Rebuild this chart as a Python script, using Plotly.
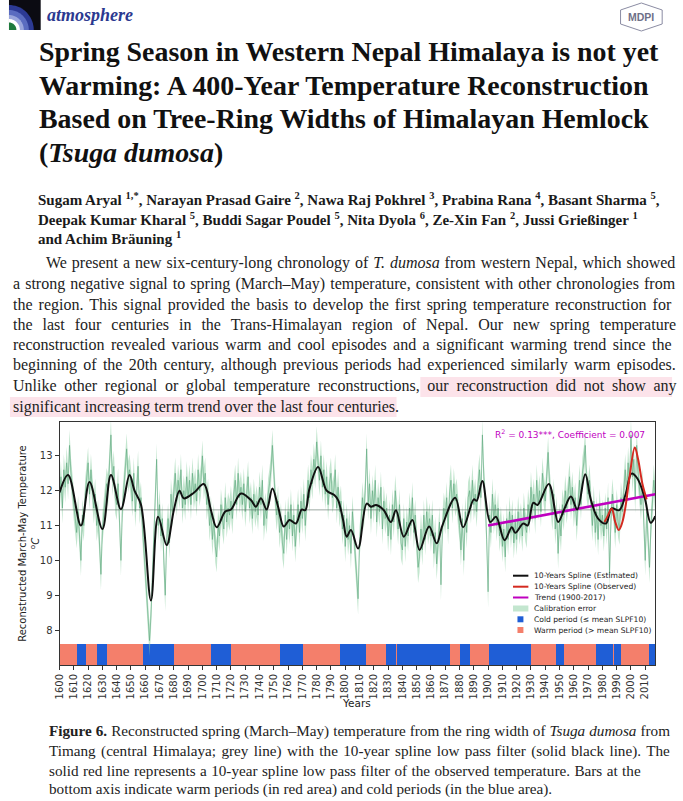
import math
import plotly.graph_objects as go

W, H = 683, 801
def PX(x): return x / W
def PY(y): return 1 - y / H

# ---------------- data ----------------
years = list(range(1600, 2018))
annual = [
    11.8, 12.4, 11.5, 12.6, 12.1, 12.8, 12.2, 13.3, 12.5, 11.9,   # 1600s
    11.6, 11.2, 10.8, 11.4, 10.6, 10.0, 11.3, 11.0, 11.9, 12.4,   # 1610s
    12.8, 11.9, 12.6, 12.0, 11.5, 11.9, 11.0, 11.3, 10.6, 9.6,    # 1620s
    10.9, 11.4, 11.8, 12.2, 12.0, 13.0, 13.6, 12.3, 12.7, 11.8,   # 1630s
    11.6, 12.2, 10.9, 10.0, 11.5, 12.1, 12.9, 13.2, 12.4, 12.6,   # 1640s
    12.2, 11.7, 12.5, 11.4, 12.0, 12.7, 11.5, 11.8, 11.0, 10.4,   # 1650s
    9.8, 9.2, 8.6, 7.7, 8.4, 9.6, 10.8, 11.9, 12.9, 11.0,         # 1660s
    11.6, 10.7, 11.2, 10.0, 9.0, 10.6, 11.2, 10.5, 11.9, 11.4,    # 1670s
    12.1, 12.5, 11.7, 12.3, 11.9, 12.6, 11.5, 12.0, 11.6, 12.4,   # 1680s
    11.8, 12.3, 11.6, 12.5, 11.9, 12.2, 11.7, 12.6, 12.0, 12.3,   # 1690s
    13.0, 12.2, 12.5, 11.6, 11.9, 11.0, 11.4, 10.6, 11.2, 10.4,   # 1700s
    10.1, 11.0, 10.7, 11.6, 11.2, 10.9, 11.8, 11.1, 11.5, 11.3,   # 1710s
    11.7, 11.2, 11.9, 12.3, 11.6, 12.5, 11.8, 12.1, 11.6, 12.2,   # 1720s
    11.4, 11.9, 12.4, 11.5, 11.8, 11.2, 11.9, 11.4, 11.7, 11.3,   # 1730s
    12.1, 11.6, 12.3, 11.0, 11.5, 11.2, 11.9, 12.2, 12.6, 13.3,   # 1740s
    12.4, 11.8, 11.3, 11.7, 10.8, 11.2, 10.5, 10.2, 11.3, 10.6,   # 1750s
    11.4, 10.9, 11.6, 10.7, 11.3, 10.4, 11.0, 11.6, 10.8, 11.7,   # 1760s
    11.2, 11.9, 11.0, 11.6, 12.3, 11.8, 12.6, 12.2, 12.9, 12.5,   # 1770s
    13.4, 12.8, 12.3, 13.0, 12.1, 12.6, 11.9, 12.4, 11.6, 12.2,   # 1780s
    12.5, 11.8, 12.0, 12.6, 11.5, 12.1, 11.4, 11.7, 10.9, 11.3,   # 1790s
    10.4, 11.2, 10.6, 11.0, 10.2, 11.4, 10.7, 10.0, 9.6, 8.9,     # 1800s
    10.5, 11.0, 11.8, 11.3, 12.0, 13.2, 11.6, 12.2, 11.2, 12.0,   # 1810s
    11.5, 12.3, 11.1, 11.8, 11.4, 12.1, 10.9, 11.7, 11.2, 11.5,   # 1820s
    10.7, 11.3, 10.6, 11.6, 11.1, 12.0, 11.4, 10.9, 11.6, 10.5,   # 1830s
    10.3, 11.2, 10.4, 11.1, 10.7, 11.5, 11.0, 11.8, 10.8, 11.3,   # 1840s
    10.5, 9.8, 10.1, 10.9, 10.3, 11.3, 10.6, 11.4, 10.9, 11.2,    # 1850s
    10.7, 11.3, 10.2, 10.8, 9.9, 10.6, 11.1, 9.3, 10.9, 11.5,     # 1860s
    11.2, 11.8, 10.9, 11.9, 12.3, 11.5, 12.2, 11.7, 11.9, 11.4,   # 1870s
    11.0, 10.3, 11.2, 10.0, 11.4, 10.8, 11.8, 12.0, 11.5, 12.3,   # 1880s
    11.6, 11.9, 11.4, 12.2, 12.6, 11.8, 13.6, 12.4, 11.7, 10.6,   # 1890s
    9.1, 11.3, 10.8, 11.9, 11.2, 11.6, 11.0, 11.5, 10.7, 11.1,    # 1900s
    10.4, 10.9, 10.1, 11.2, 10.6, 11.4, 10.8, 11.3, 10.5, 11.1,   # 1910s
    10.6, 11.4, 10.9, 11.2, 10.7, 11.5, 11.0, 10.8, 11.6, 11.2,   # 1920s
    12.1, 11.5, 11.9, 11.2, 12.3, 11.6, 12.0, 11.4, 12.5, 12.0,   # 1930s
    11.7, 12.4, 13.1, 12.2, 11.8, 11.3, 11.9, 10.9, 11.4, 10.2,   # 1940s
    11.2, 10.7, 11.6, 11.3, 12.0, 11.5, 11.9, 12.4, 11.6, 12.1,   # 1950s
    11.4, 11.8, 11.0, 11.7, 12.3, 11.6, 12.5, 12.8, 13.3, 12.2,   # 1960s
    11.9, 12.3, 11.5, 11.0, 11.7, 10.8, 11.4, 10.6, 11.6, 11.0,   # 1970s
    11.3, 10.7, 11.5, 10.9, 11.8, 9.6, 11.2, 11.9, 11.4, 10.8,    # 1980s
    11.6, 11.1, 10.9, 11.8, 11.4, 12.0, 12.6, 11.9, 12.8, 12.2,   # 1990s
    13.6, 12.4, 12.9, 11.8, 13.3, 12.5, 12.0, 11.6, 12.2, 11.0,   # 2000s
    10.0, 11.4, 10.6, 9.8, 11.0, 11.6, 12.3, 11.8,               # 2010-2017
]
CAL_ERR = 0.45

spline_years = [1600, 1606, 1615, 1621, 1630, 1636, 1643, 1649, 1652.5, 1657,
                1664, 1669, 1675, 1680, 1684, 1687, 1694, 1701, 1706, 1710,
                1716, 1720, 1727, 1734, 1737.5, 1741, 1745, 1749, 1753, 1757,
                1761, 1765.5, 1769.5, 1772, 1775, 1781, 1787, 1792.5, 1795, 1798.5,
                1801, 1804, 1809, 1815, 1818, 1821.6, 1827, 1832, 1835.5, 1841,
                1847, 1852, 1858.7, 1864, 1868, 1877, 1882.5, 1890, 1892, 1896,
                1901.5, 1905.5, 1911.5, 1916.6, 1919, 1924.6, 1927.7, 1931.6, 1934.6, 1942.5,
                1949, 1953, 1958, 1962.4, 1968, 1972, 1977, 1982.5, 1986.5, 1991.8,
                1996.4, 2000.4, 2004.5, 2009.6, 2013.8, 2017]
spline_vals = [11.95, 12.45, 11.0, 12.25, 10.9, 12.45, 11.47, 12.45, 12.0, 11.6,
               8.85, 11.25, 10.44, 11.44, 12.0, 11.78, 11.94, 12.19, 11.44, 10.95,
               11.4, 11.46, 11.92, 11.73, 11.54, 11.78, 11.46, 12.06, 11.54, 10.97,
               11.16, 11.06, 11.46, 11.44, 12.06, 12.68, 12.0, 11.87, 11.73, 11.16,
               10.68, 10.87, 10.34, 11.63, 11.54, 11.59, 11.44, 11.1, 11.44, 10.68,
               11.16, 10.3, 10.97, 10.49, 11.0, 11.8, 10.95, 11.75, 11.71, 12.28,
               11.1, 11.25, 10.58, 10.95, 10.79, 11.06, 11.0, 11.65, 11.59, 12.19,
               11.1, 11.44, 11.83, 11.46, 12.47, 11.73, 11.2, 11.06, 11.49, 11.44,
               11.92, 12.49, 12.35, 11.8, 11.08, 11.27]

obs_years = [1981.5, 1984, 1986.5, 1989, 1991.5, 1994, 1996.5, 1999, 2002.7, 2005, 2008, 2011]
obs_vals = [11.1, 11.3, 11.49, 11.1, 10.87, 11.1, 11.63, 12.4, 13.24, 12.9, 12.2, 11.75]

trend_years = [1900, 2017]
trend_vals = [11.0, 11.9]

MEAN_T = 11.45

period_start = [1600, 1612, 1618, 1626, 1633, 1658, 1680, 1706, 1720, 1754, 1770,
                1796, 1814, 1828, 1835, 1836, 1873, 1880, 1887, 1900, 1930, 1947,
                1953, 1975, 1987, 1988, 1993, 2012]
period_end = [1612, 1618, 1626, 1633, 1658, 1680, 1706, 1720, 1754, 1770, 1796,
              1814, 1828, 1835, 1836, 1873, 1880, 1887, 1900, 1930, 1947, 1953,
              1975, 1987, 1988, 1993, 2012, 2017]
period_kind = ["warm", "cold", "warm", "cold", "warm", "cold", "warm", "cold", "warm", "cold", "warm",
               "cold", "warm", "cold", "warm", "cold", "warm", "cold", "warm", "cold", "warm", "cold",
               "warm", "cold", "warm", "cold", "warm", "cold"]

xtick_vals = list(range(1600, 2011, 10))
ytick_vals = [8, 9, 10, 11, 12, 13]

# ---------------- colours ----------------
C_BAND = "rgba(135,205,160,0.5)"
C_ANN = "rgba(80,160,115,0.75)"
C_BLACK = "#111111"
C_RED = "#d42a20"
C_MAG = "#bf00bf"
C_WARM = "#f47f6b"
C_COLD = "#1f5ed6"

fig = go.Figure()

upper = [v + CAL_ERR for v in annual]
lower = [v - CAL_ERR for v in annual]
fig.add_trace(go.Scatter(x=years, y=upper, mode="lines", line=dict(width=0),
                         hoverinfo="skip", showlegend=False))
fig.add_trace(go.Scatter(x=years, y=lower, mode="lines", line=dict(width=0),
                         fill="tonexty", fillcolor=C_BAND, hoverinfo="skip",
                         name="Calibration error", showlegend=False))
fig.add_trace(go.Scatter(x=years, y=annual, mode="lines",
                         line=dict(color=C_ANN, width=0.7), showlegend=False))
fig.add_trace(go.Scatter(x=[years[0], years[-1]], y=[MEAN_T, MEAN_T], mode="lines",
                         line=dict(color="rgba(90,110,100,0.75)", width=0.8), showlegend=False))

for kind, col in (("warm", C_WARM), ("cold", C_COLD)):
    xs, ws = [], []
    for s, e, k in zip(period_start, period_end, period_kind):
        if k == kind:
            xs.append((s + e) / 2)
            ws.append(e - s)
    fig.add_trace(go.Bar(x=xs, y=[0.6] * len(xs), base=7.0, width=ws,
                         marker=dict(color=col, line=dict(width=0)),
                         showlegend=False))

fig.add_trace(go.Scatter(x=trend_years, y=trend_vals, mode="lines",
                         line=dict(color=C_MAG, width=2.6), showlegend=False))
fig.add_trace(go.Scatter(x=spline_years, y=spline_vals, mode="lines",
                         line=dict(color=C_BLACK, width=2, shape="spline", smoothing=1.0),
                         showlegend=False))
fig.add_trace(go.Scatter(x=obs_years, y=obs_vals, mode="lines",
                         line=dict(color=C_RED, width=2, shape="spline", smoothing=1.0),
                         showlegend=False))

AX_FONT = dict(family="DejaVu Sans", size=10, color="#333333")
fig.update_layout(
    width=W, height=H, autosize=False,
    margin=dict(l=0, r=0, t=0, b=0),
    paper_bgcolor="white", plot_bgcolor="white",
    barmode="overlay", bargap=0,
    showlegend=False,
    xaxis=dict(domain=[PX(54), PX(655)], range=[1600, 2017], tickvals=xtick_vals,
               tickangle=-90, ticks="outside", ticklen=4, tickcolor="#333",
               showline=True, mirror=True, linecolor="#333", linewidth=1,
               showgrid=False, zeroline=False, tickfont=AX_FONT),
    yaxis=dict(domain=[PY(665), PY(422)], range=[7.0, 13.97], tickvals=ytick_vals,
               ticks="outside", ticklen=4, tickcolor="#333",
               showline=True, mirror=True, linecolor="#333", linewidth=1,
               showgrid=False, zeroline=False, tickfont=AX_FONT),
)

shapes = []
annotations = []

def ann(x, y, text, size, family="Liberation Serif", color="#1a1a1a", xanchor="left",
        yanchor="middle", angle=0):
    annotations.append(dict(x=PX(x), y=PY(y), xref="paper", yref="paper", text=text,
                            showarrow=False, xanchor=xanchor, yanchor=yanchor,
                            textangle=angle, font=dict(family=family, size=size, color=color)))

def spaced(t, ws):
    if ws == 0:
        return t
    return '<span style="word-spacing:%.2fpx">%s</span>' % (ws, t)

# ---------------- header logo ----------------
shapes.append(dict(type="rect", xref="paper", yref="paper", x0=PX(3), x1=PX(35), y0=PY(30), y1=PY(0),
                   fillcolor="#0b0b12", line=dict(width=0), layer="above"))
def quarter(r, col):
    pts = []
    for i in range(0, 19):
        a = math.radians(90 * i / 18)
        pts.append((3 + r * math.sin(a), 30 - r * math.cos(a)))
    path = "M %f,%f " % (PX(3), PY(30))
    for (px_, py_) in pts:
        path += "L %f,%f " % (PX(px_), PY(py_))
    path += "Z"
    shapes.append(dict(type="path", xref="paper", yref="paper", path=path,
                       fillcolor=col, line=dict(width=0), layer="above"))
quarter(25, "#2c3a94")
quarter(20, "#5a6cc0")
quarter(15, "#9aa6dc")
quarter(11, "#ffffff")
quarter(7.5, "#1e7a3c")
ann(39, 15, "<b><i>atmosphere</i></b>", 18, color="#2b3990")

# MDPI logo
hexpts = [(641, 3), (662, 10), (662, 24), (641, 31), (620, 24), (620, 10)]
hp = "M " + " L ".join("%f,%f" % (PX(a), PY(b)) for a, b in hexpts) + " Z"
shapes.append(dict(type="path", xref="paper", yref="paper", path=hp,
                   line=dict(color="#8b8ca3", width=1), fillcolor="rgba(0,0,0,0)"))
ann(641, 17, "<b>MDPI</b>", 10.5, family="Liberation Sans", color="#6e7088", xanchor="center")

# ---------------- title ----------------
title_lines = ["Spring Season in Western Nepal Himalaya is not yet",
               "Warming: A 400-Year Temperature Reconstruction",
               "Based on Tree-Ring Widths of Himalayan Hemlock",
               "(<i>Tsuga dumosa</i>)"]
for i, t in enumerate(title_lines):
    ann(31, [51, 85, 118, 152][i], "<b>" + t + "</b>", 27.9, color="#111111")

# ---------------- authors ----------------
author_lines = [
    "Sugam Aryal <sup>1,*</sup>, Narayan Prasad Gaire <sup>2</sup>, Nawa Raj Pokhrel <sup>3</sup>, Prabina Rana <sup>4</sup>, Basant Sharma <sup>5</sup>,",
    "Deepak Kumar Kharal <sup>5</sup>, Buddi Sagar Poudel <sup>5</sup>, Nita Dyola <sup>6</sup>, Ze-Xin Fan <sup>2</sup>, Jussi Grießinger <sup>1</sup>",
    "and Achim Bräuning <sup>1</sup>",
]
for i, t in enumerate(author_lines):
    ann(30, [199, 219, 238][i], "<b>" + t + "</b>", 15, color="#1a1a1a")

# ---------------- abstract ----------------
shapes.append(dict(type="rect", xref="paper", yref="paper", x0=PX(418), x1=PX(672),
                   y0=PY(397), y1=PY(377), fillcolor="#fce3ea", line=dict(width=0), layer="below"))
shapes.append(dict(type="rect", xref="paper", yref="paper", x0=PX(4), x1=PX(394),
                   y0=PY(417), y1=PY(397), fillcolor="#fce3ea", line=dict(width=0), layer="below"))
abs_lines = [
    "We present a new six-century-long chronology of <i>T. dumosa</i> from western Nepal, which showed",
    "a strong negative signal to spring (March–May) temperature, consistent with other chronologies from",
    "the region. This signal provided the basis to develop the first spring temperature reconstruction for",
    "the last four centuries in the Trans-Himalayan region of Nepal. Our new spring temperature",
    "reconstruction revealed various warm and cool episodes and a significant warming trend since the",
    "beginning of the 20th century, although previous periods had experienced similarly warm episodes.",
    "Unlike other regional or global temperature reconstructions, our reconstruction did not show any",
    "significant increasing term trend over the last four centuries.",
]
abs_ws = [0.92, 1.08, 2.0, 5.96, 2.44, 2.3, 3.72, 0]
abs_y = [263, 284, 305, 325, 345, 365, 386, 407]
for i, t in enumerate(abs_lines):
    ann(38 if i == 0 else 5, abs_y[i], spaced(t, abs_ws[i]), 16, color="#222222")

# ---------------- chart texts ----------------
ann(23, 543, "Reconstructed March-May Temperature<br><sup>o</sup><i>C</i>", 10,
    family="DejaVu Sans", color="#222222", xanchor="center", angle=-90)
ann(354, 703, "Years", 10.5, family="DejaVu Sans", color="#222222", xanchor="center")
ann(569, 434, "R<sup>2</sup> = 0.13***, Coefficient = 0.007", 9, family="DejaVu Sans",
    color=C_MAG, xanchor="center")

# manual compact legend
leg_y = [575.7, 586.7, 597.5, 608.5, 619.3, 630.0]
leg_txt = ["10-Years Spline (Estimated)", "10-Years Spline (Observed)", "Trend (1900-2017)",
           "Calibration error", "Cold period (≤ mean SLPF10)", "Warm period (> mean SLPF10)"]
for yy, col in zip(leg_y[:3], [C_BLACK, C_RED, C_MAG]):
    shapes.append(dict(type="line", xref="paper", yref="paper", x0=PX(511.5), x1=PX(527),
                       y0=PY(yy), y1=PY(yy), line=dict(color=col, width=2)))
shapes.append(dict(type="rect", xref="paper", yref="paper", x0=PX(511.5), x1=PX(527),
                   y0=PY(leg_y[3] + 3), y1=PY(leg_y[3] - 3), fillcolor=C_BAND,
                   line=dict(width=0)))
for yy, col in zip(leg_y[4:], [C_COLD, C_WARM]):
    shapes.append(dict(type="rect", xref="paper", yref="paper", x0=PX(516), x1=PX(522),
                       y0=PY(yy + 3), y1=PY(yy - 3), fillcolor=col, line=dict(width=0)))
for yy, t in zip(leg_y, leg_txt):
    ann(530.5, yy, t, 7.6, family="DejaVu Sans", color="#222222")

# ---------------- caption ----------------
cap_lines = [
    "<b>Figure 6.</b> Reconstructed spring (March–May) temperature from the ring width of <i>Tsuga dumosa</i> from",
    "Timang (central Himalaya; grey line) with the 10-year spline low pass filter (solid black line). The",
    "solid red line represents a 10-year spline low pass filter of the observed temperature. Bars at the",
    "bottom axis indicate warm periods (in red area) and cold periods (in the blue area).",
]
cap_ws = [0.2, 1.57, 0.63, 0]
cap_y = [731, 750.5, 770, 789]
for i, t in enumerate(cap_lines):
    ann(41, cap_y[i], spaced(t, cap_ws[i]), 15.2, color="#222222")

fig.update_layout(shapes=shapes, annotations=annotations)
fig.write_html("out.html", config={"displayModeBar": False},
               post_script="document.body.style.margin='0px';")
